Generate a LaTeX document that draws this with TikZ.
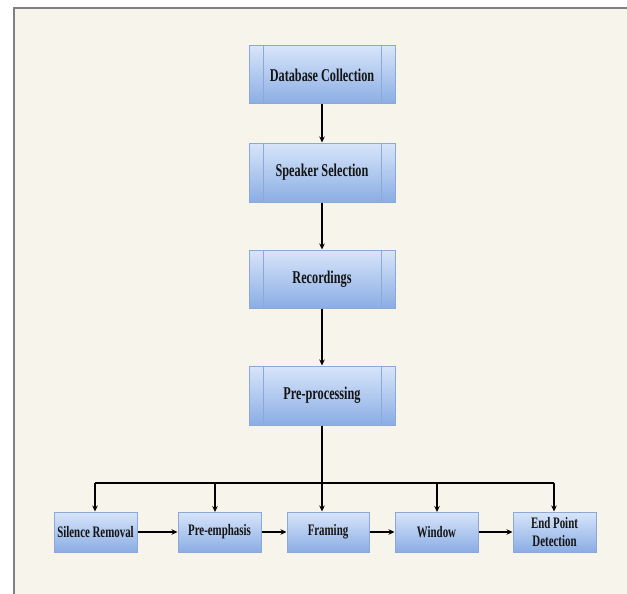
\documentclass[tikz,border=0pt]{standalone}
\usepackage{fontspec}
\newfontfamily\lbl{Liberation Serif}[FakeStretch=0.68]
\usetikzlibrary{arrows.meta}
\definecolor{bgc}{RGB}{247,244,236}
\definecolor{framec}{RGB}{128,128,128}
\definecolor{topc}{RGB}{216,229,250}
\definecolor{botc}{RGB}{138,173,228}
\definecolor{edgec}{RGB}{140,168,214}
\definecolor{txtc}{RGB}{20,20,20}
\tikzset{
  procbox/.style={rectangle, draw=edgec, line width=1pt, top color=topc, bottom color=botc,
    minimum width=146pt, minimum height=58pt, inner sep=0pt, text=txtc,
    font=\lbl\bfseries\fontsize{18}{20}\selectfont, align=center},
  smallbox/.style={procbox, minimum width=83pt, minimum height=40pt,
    font=\lbl\bfseries\fontsize{16}{18}\selectfont},
  conn/.style={line width=1.1pt, black},
  arr/.style={conn, -{Stealth[length=6pt,width=5.5pt]}}
}
\begin{document}
\begin{tikzpicture}[x=1pt,y=-1pt]
\useasboundingbox (0,0) rectangle (627,594);
\fill[white] (0,0) rectangle (627,594);
\fill[bgc] (14,8) rectangle (627,594);
\draw[framec, line width=1.5pt] (14,594) -- (14,8) -- (627,8);

\node[procbox] (db) at (322,75) {Database Collection};
\node[procbox, minimum height=59pt] (sp) at (322,172.5) {Speaker Selection};
\node[procbox] (rec) at (322,279) {Recordings};
\node[procbox, minimum height=59pt] (pre) at (322,395.5) {Pre-processing};

\foreach \n in {db,sp,rec,pre}{
  \draw[edgec, line width=1pt] ([xshift=15pt]\n.north west) -- ([xshift=15pt]\n.south west);
  \draw[edgec, line width=1pt] ([xshift=-14pt]\n.north east) -- ([xshift=-14pt]\n.south east);
}

\node[smallbox] (sr) at (95.5,532) {Silence Removal};
\node[smallbox] (pe) at (219.5,532) {Pre-emphasis};
\node[smallbox, minimum width=82pt] (fr) at (328,532) {Framing};
\node[smallbox] (wi) at (436.5,532) {Window};
\node[smallbox] (ep) at (554.5,532) {End Point\\Detection};

\draw[arr] (db) -- (sp);
\draw[arr] (sp) -- (rec);
\draw[arr] (rec) -- (pre);

\coordinate (busL) at (95,483);
\coordinate (busR) at (554,483);
\draw[arr] (pre.south) -- (pre.south |- fr.north);
\draw[conn] (busL) -- (busR);
\draw[arr] (busL) -- (busL |- sr.north);
\draw[arr] (215,483) -- (215,512);
\draw[arr] (437,483) -- (437,512);
\draw[arr] (busR) -- (busR |- ep.north);

\draw[arr] (sr) -- (pe);
\draw[arr] (pe) -- (fr);
\draw[arr] (fr) -- (wi);
\draw[arr] (wi) -- (ep);
\end{tikzpicture}
\end{document}
